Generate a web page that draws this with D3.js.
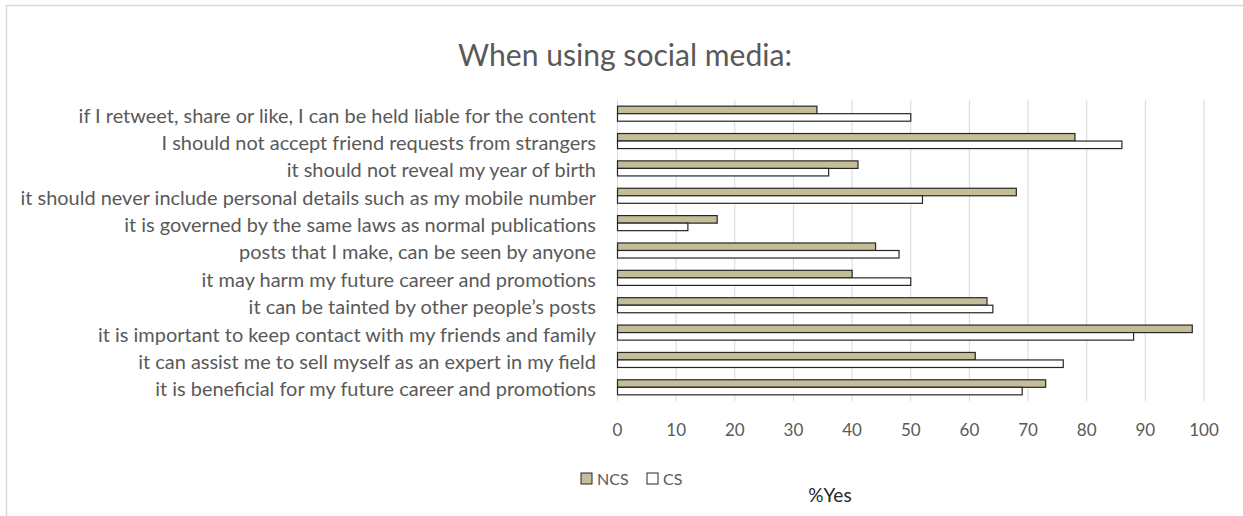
<!DOCTYPE html>
<html>
<head>
<meta charset="utf-8">
<script src="https://d3js.org/d3.v7.min.js"></script>
<style>
  body { margin: 0; background: #fff; font-family: Lato, 'Open Sans', sans-serif; }
  svg text { fill: #595959; }
</style>
</head>
<body>
<div id="wrapper"></div>
<script>
const W = 1243, H = 516

// categories top to bottom
const questions = [
  "if I retweet, share or like, I can be held liable for the content",
  "I should not accept friend requests from strangers",
  "it should not reveal my year of birth",
  "it should never include personal details such as my mobile number",
  "it is governed by the same laws as normal publications",
  "posts that I make, can be seen by anyone",
  "it may harm my future career and promotions",
  "it can be tainted by other people\u2019s posts",
  "it is important to keep contact with my friends and family",
  "it can assist me to sell myself as an expert in my field",
  "it is beneficial for my future career and promotions"
]
const ncs = [34, 78, 41, 68, 17, 44, 40, 63, 98, 61, 73]
const cs  = [50, 86, 36, 52, 12, 48, 50, 64, 88, 76, 69]
const seriesNames = ["NCS", "CS"]
const seriesColors = ["#c4bd97", "#ffffff"]
const xTicks = [0, 10, 20, 30, 40, 50, 60, 70, 80, 90, 100]

const margin = {top: 100, left: 617.5, right: 39, bottom: 115}

const svg = d3.select("#wrapper").append("svg")
  .attr("width", W)
  .attr("height", H)

// chart border (only left/top visible in the frame)
svg.append("rect")
  .attr("x", 6.5).attr("y", 5.5)
  .attr("width", W + 20).attr("height", H + 20)
  .attr("fill", "none")
  .attr("stroke", "#d9d9d9")
  .attr("stroke-width", 1.5)

const x = d3.scaleLinear().domain([0, 100]).range([margin.left, W - margin.right])
const y = d3.scaleBand().domain(questions).range([margin.top, H - margin.bottom]).paddingInner(0.45).paddingOuter(0.225)
const sub = d3.scaleBand().domain(seriesNames).range([0, y.bandwidth()])

// gridlines
svg.append("g").selectAll("line")
  .data(xTicks)
  .join("line")
  .attr("x1", d => x(d)).attr("x2", d => x(d))
  .attr("y1", margin.top).attr("y2", H - margin.bottom)
  .attr("stroke", "#d9d9d9")
  .attr("stroke-width", 1)

// x tick labels
svg.append("g").selectAll("text")
  .data(xTicks)
  .join("text")
  .attr("x", d => x(d))
  .attr("y", 430)
  .attr("dy", "0.35em")
  .attr("text-anchor", "middle")
  .style("font-size", "17px")
  .text(d => d)

// bars
const rows = questions.map((q, i) => ({q, vals: [ncs[i], cs[i]]}))
const rowG = svg.append("g").selectAll("g")
  .data(rows)
  .join("g")
  .attr("transform", d => `translate(0,${y(d.q)})`)

rowG.selectAll("rect")
  .data(d => d.vals.map((v, j) => ({v, s: seriesNames[j], c: seriesColors[j]})))
  .join("rect")
  .attr("x", x(0))
  .attr("y", d => sub(d.s))
  .attr("width", d => x(d.v) - x(0))
  .attr("height", sub.bandwidth())
  .attr("fill", d => d.c)
  .attr("stroke", "#262626")
  .attr("stroke-width", 1.2)

// category labels, fit to the reference width
const labels = svg.append("g").selectAll("text")
  .data(questions)
  .join("text")
  .attr("x", 596)
  .attr("y", d => y(d) + y.bandwidth() / 2 + 2)
  .attr("dy", "0.35em")
  .attr("text-anchor", "end")
  .style("font-size", "16px")
  .text(d => d)

let maxW = 0
labels.each(function() { maxW = Math.max(maxW, this.getComputedTextLength()) })
labels.style("font-size", (16 * 576 / maxW) + "px")

// title
const title = svg.append("text")
  .attr("x", 625).attr("y", 55)
  .attr("dy", "0.35em")
  .attr("text-anchor", "middle")
  .style("font-size", "24px")
  .text("When using social media:")
const tw = title.node().getComputedTextLength()
title.style("font-size", (24 * 334 / tw) + "px")

// legend
const leg = svg.append("g").selectAll("g")
  .data(seriesNames)
  .join("g")
  .attr("transform", (d, i) => `translate(${581 + i * 66},473)`)
leg.append("rect")
  .attr("width", 11).attr("height", 11)
  .attr("fill", (d, i) => seriesColors[i])
  .attr("stroke", "#262626")
leg.append("text")
  .attr("x", 16).attr("y", 6)
  .attr("dy", "0.35em")
  .style("font-size", "16px")
  .text(d => d)

// axis title
svg.append("text")
  .attr("x", 830).attr("y", 495)
  .attr("dy", "0.35em")
  .attr("text-anchor", "middle")
  .style("font-size", "19px")
  .style("fill", "#262626")
  .text("%Yes")
</script>
</body>
</html>
